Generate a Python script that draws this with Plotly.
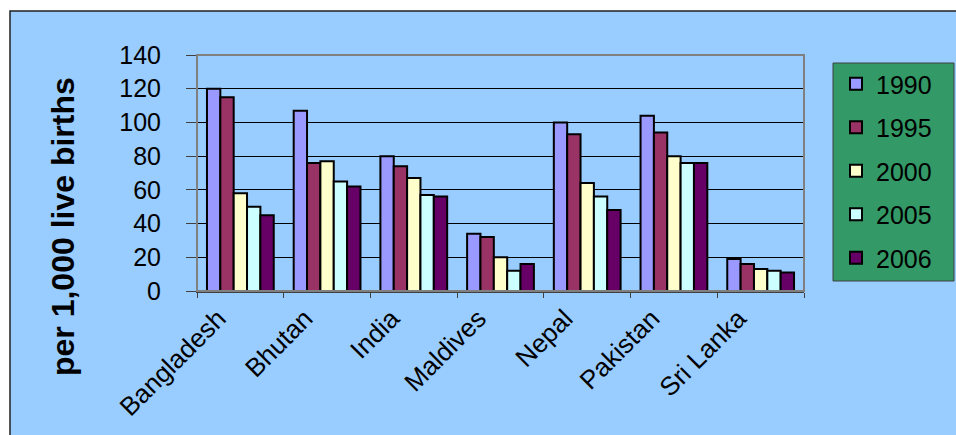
import plotly.graph_objects as go

countries = ["Bangladesh", "Bhutan", "India", "Maldives", "Nepal", "Pakistan", "Sri Lanka"]
years = ["1990", "1995", "2000", "2005", "2006"]
v1990 = [120, 107, 80, 34, 100, 104, 19]
v1995 = [115, 76, 74, 32, 93, 94, 16]
v2000 = [58, 77, 67, 20, 64, 80, 13]
v2005 = [50, 65, 57, 12, 56, 76, 12]
v2006 = [45, 62, 56, 16, 48, 76, 11]
series = [v1990, v1995, v2000, v2005, v2006]
colors = ["#9999FF", "#993366", "#FFFFCC", "#CCFFFF", "#660066"]
y_ticks = [0, 20, 40, 60, 80, 100, 120, 140]

FONT = "Liberation Sans, Arial, sans-serif"

fig = go.Figure()
for name, vals, col in zip(years, series, colors):
    fig.add_trace(go.Bar(
        x=countries, y=vals, name=name, legendgroup=name,
        marker=dict(color=col, line=dict(color="black", width=2)),
    ))

W, H = 956, 435
L, R, T, B = 197, 804, 55, 291
pw, ph = R - L, B - T

def px(x):
    return (x - L) / pw

def py(y):
    return (B - y) / ph

fig.update_layout(
    width=W, height=H,
    margin=dict(l=L, r=W - R, t=T, b=H - B, pad=0),
    paper_bgcolor="white",
    plot_bgcolor="#339966",
    barmode="group",
    bargap=0.23,
    bargroupgap=0,
    font=dict(family=FONT, size=25, color="black"),
    showlegend=True,
    legend=dict(
        x=px(836), y=py(61), xanchor="left", yanchor="top",
        bgcolor="rgba(0,0,0,0)", borderwidth=0,
        font=dict(family=FONT, size=25, color="black"),
        tracegroupgap=8,
    ),
    xaxis=dict(
        type="category",
        tickangle=-45,
        tickfont=dict(family=FONT, size=26, color="black"),
        ticks="outside", ticklen=5, tickcolor="#404040",
        tickson="boundaries",
        showline=True, linecolor="#404040", linewidth=2,
        showgrid=False,
        ticklabelshift=-22,
    ),
    yaxis=dict(
        range=[0, 140],
        tickvals=y_ticks,
        tickfont=dict(family=FONT, size=25, color="black"),
        ticks="outside", ticklen=10, tickcolor="#404040",
        showline=True, linecolor="black", linewidth=1,
        showgrid=True, gridcolor="black", gridwidth=1,
        zeroline=False,
        ticklabelstandoff=20,
    ),
    shapes=[
        dict(type="rect", xref="paper", yref="paper", layer="below",
             x0=px(10), x1=px(1100), y0=py(600), y1=py(11),
             fillcolor="#99CCFF", line=dict(color="#202020", width=1.5)),
        dict(type="rect", xref="paper", yref="paper", layer="below",
             x0=px(833), x1=px(954), y0=py(281), y1=py(63),
             fillcolor="#339966", line=dict(color="#404040", width=1)),
        dict(type="rect", xref="paper", yref="paper", layer="above",
             x0=0, x1=1, y0=0, y1=1,
             fillcolor="rgba(0,0,0,0)", line=dict(color="#808080", width=2)),
    ],
    annotations=[
        dict(text="<b>per 1,000 live births</b>", xref="paper", yref="paper",
             x=px(63), y=py(227), textangle=-90, showarrow=False,
             xanchor="center", yanchor="middle",
             font=dict(family=FONT, size=32, color="black")),
    ],
)

fig.write_html("out.html")
